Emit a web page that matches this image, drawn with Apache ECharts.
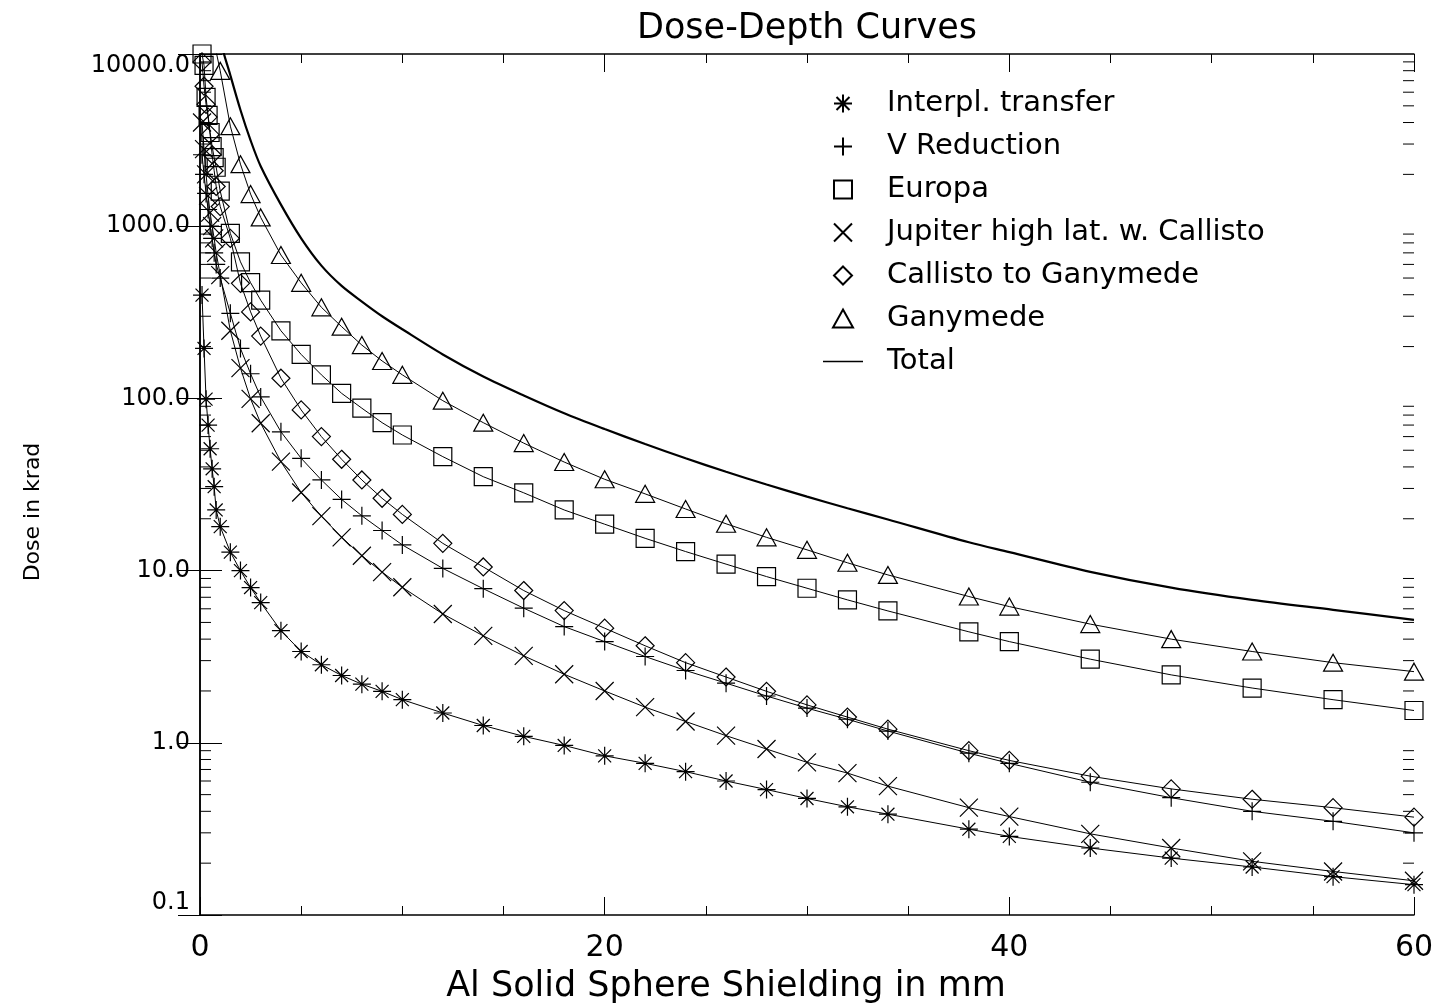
<!DOCTYPE html>
<html>
<head>
<meta charset="utf-8">
<title>Dose-Depth Curves</title>
<script src="https://cdn.jsdelivr.net/npm/echarts@6/dist/echarts.min.js"></script>
<style>
  html, body { margin: 0; padding: 0; background: #fff; }
  #chart { width: 1436px; height: 1004px; }
</style>
</head>
<body>
<div id="chart"></div>
<script>
// Al shielding depth in mm, one entry per marker
const depth = [0.1, 0.2, 0.3, 0.4, 0.5, 0.6, 0.7, 0.8, 1, 1.5, 2, 2.5, 3, 4, 5, 6, 7, 8, 9, 10,
  12, 14, 16, 18, 20, 22, 24, 26, 28, 30, 32, 34, 38, 40, 44, 48, 52, 56, 60]

// dose in krad
const interplTransfer = [398, 195, 99, 70, 51, 39, 30.7, 22.5, 18, 12.8, 10.0, 7.97, 6.52, 4.48, 3.39, 2.84, 2.46, 2.19, 1.99, 1.78,
  1.49, 1.26, 1.09, 0.965, 0.84, 0.76, 0.68, 0.60, 0.535, 0.475, 0.425, 0.385, 0.315, 0.286, 0.245, 0.214, 0.19, 0.167, 0.15]
const vReduction = [2600, 2000, 1550, 1250, 1000, 850, 700, 600, 500, 312, 195, 139, 102, 64, 44.9, 33.6, 25.9, 20.8, 17.1, 14.1,
  10.3, 7.85, 6.05, 4.73, 3.87, 3.17, 2.63, 2.22, 1.87, 1.59, 1.37, 1.17, 0.87, 0.76, 0.59, 0.48, 0.40, 0.35, 0.30]
const europa = [10000, 8600, 5600, 4400, 3500, 2900, 2500, 2200, 1600, 908, 621, 470, 372, 247, 180, 137, 107, 87.7, 72.3, 61.3,
  45.9, 35.1, 28.3, 22.5, 18.6, 15.4, 12.9, 10.9, 9.23, 7.9, 6.76, 5.83, 4.41, 3.87, 3.06, 2.48, 2.08, 1.78, 1.54]
const jupiterHighLat = [4000, 2800, 2000, 1500, 1200, 1000, 850, 700, 520, 247, 150, 99.3, 71.7, 42.9, 28.4, 20.7, 15.6, 12.2, 9.8, 8.0,
  5.6, 4.18, 3.2, 2.5, 2.0, 1.61, 1.33, 1.1, 0.92, 0.77, 0.667, 0.56, 0.42, 0.373, 0.296, 0.245, 0.205, 0.179, 0.158]
const callistoToGanymede = [9000, 6500, 5100, 4300, 3400, 2600, 2100, 1700, 1300, 849, 466, 318, 230, 131, 85.7, 60, 44.3, 33.6, 26.3, 21.2,
  14.4, 10.5, 7.66, 5.86, 4.63, 3.66, 2.92, 2.41, 1.99, 1.66, 1.41, 1.2, 0.90, 0.79, 0.64, 0.54, 0.47, 0.42, 0.37]
const ganymede = [60000, 40000, 30000, 24000, 19000, 16000, 13000, 10300, 7980, 3810, 2292, 1536, 1125, 680, 469, 338, 261, 204, 165, 137,
  97, 72.3, 55, 42.7, 33.9, 27.9, 22.8, 18.7, 15.6, 13.2, 11.1, 9.44, 7.07, 6.18, 4.89, 4.0, 3.39, 2.92, 2.59]
const total = [200000, 120000, 80000, 60000, 45000, 36000, 30000, 25000, 12300, 7530, 4730, 3150, 2230, 1334, 850, 590, 450, 365, 300, 252,
  180, 134, 104, 82, 66.4, 54.3, 44.9, 37.5, 31.6, 26.9, 23.0, 19.8, 14.6, 12.8, 9.84, 7.96, 6.76, 5.92, 5.18]

const xTickLabels = ['0', '20', '40', '60']
// minor ticks of the log axis: 2..9 times each decade
const decades = [0.1, 1, 10, 100, 1000]
const minorSteps = [2, 3, 4, 5, 6, 7, 8, 9]

const font = 'DejaVu Sans'
const plusPath = 'path://M5,0L5,10M0,5L10,5'
const crossPath = 'path://M0,0L10,10M10,0L0,10'
const starPath = 'path://M5,0L5,10M0,5L10,5M1.4,1.4L8.6,8.6M8.6,1.4L1.4,8.6'
const squarePath = 'path://M0,0L10,0L10,10L0,10Z'
const diamondPath = 'path://M5,0L10,5L5,10L0,5Z'
const trianglePath = 'path://M5,0L10,9L0,9Z'
const barPath = 'path://M0,0L36,0L36,1.5L0,1.5Z'

function markerSeries(name, values, symbol, size) {
  return {
    name: name,
    type: 'line',
    data: depth.map((d, i) => [d, values[i]]),
    symbol: symbol,
    symbolSize: size,
    showAllSymbol: true,
    clip: true,
    lineStyle: { color: '#000', width: 1 },
    itemStyle: { color: 'rgba(0,0,0,0)', borderColor: '#000', borderWidth: 1.2 },
    emphasis: { disabled: true }
  }
}

const chart = echarts.init(document.getElementById('chart'))

const yAxisBase = {
  type: 'log',
  logBase: 10,
  min: 0.1,
  max: 10000,
  axisLine: { show: true, lineStyle: { color: '#000', width: 1.5 } },
  axisTick: { show: true, inside: true, length: 22, lineStyle: { color: '#000', width: 1 } },
  minorTick: { show: false },
  splitLine: { show: false }
}
const xAxisBase = {
  type: 'value',
  min: 0,
  max: 60,
  interval: 20,
  axisLine: { show: true, onZero: false, lineStyle: { color: '#000', width: 1.5 } },
  axisTick: { show: true, inside: true, length: 18, lineStyle: { color: '#000', width: 1 } },
  minorTick: { show: true, splitNumber: 4, length: 9, lineStyle: { color: '#000', width: 1 } },
  splitLine: { show: false }
}

const minorTicks = []
decades.forEach(d => minorSteps.forEach(k => minorTicks.push([0, k * d])))

chart.setOption({
  animation: false,
  backgroundColor: '#fff',
  title: {
    text: 'Dose-Depth Curves',
    left: 802,
    top: 6,
    textAlign: 'center',
    textStyle: { fontFamily: font, fontSize: 35, fontWeight: 'normal', color: '#000' }
  },
  grid: { left: 200, right: 22, top: 54, bottom: 89, containLabel: false, outerBoundsMode: 'none' },
  xAxis: [
    Object.assign({}, xAxisBase, {
      position: 'bottom',
      axisLabel: {
        margin: 18,
        fontFamily: font,
        fontSize: 30,
        color: '#000',
        formatter: (v) => xTickLabels[Math.round(v / 20)]
      }
    }),
    Object.assign({}, xAxisBase, { position: 'top', axisLabel: { show: false } })
  ],
  yAxis: [
    Object.assign({}, yAxisBase, {
      position: 'left',
      axisLabel: {
        margin: 10,
        fontFamily: font,
        fontSize: 24,
        color: '#000',
        verticalAlignMinLabel: 'bottom',
        verticalAlignMaxLabel: 'top',
        formatter: (v) => v.toFixed(1)
      }
    }),
    Object.assign({}, yAxisBase, { position: 'right', axisLabel: { show: false } })
  ],
  legend: {
    orient: 'vertical',
    left: 818,
    top: 84,
    itemWidth: 40,
    itemHeight: 18,
    itemGap: 14,
    selectedMode: false,
    textStyle: { fontFamily: font, fontSize: 29, color: '#000', padding: [0, 0, 0, 19] },
    data: [
      { name: 'Interpl. transfer', icon: starPath },
      { name: 'V Reduction', icon: plusPath },
      { name: 'Europa', icon: squarePath },
      { name: 'Jupiter high lat. w. Callisto', icon: crossPath },
      { name: 'Callisto to Ganymede', icon: diamondPath },
      { name: 'Ganymede', icon: trianglePath },
      { name: 'Total', icon: barPath }
    ]
  },
  graphic: [
    {
      type: 'text',
      x: 726,
      y: 987,
      style: { text: 'Al Solid Sphere Shielding in mm', fontFamily: font, fontSize: 35, fill: '#000', align: 'center', verticalAlign: 'middle' }
    },
    {
      type: 'text',
      x: 33,
      y: 512,
      rotation: Math.PI / 2,
      style: { text: 'Dose in krad', fontFamily: font, fontSize: 22, fill: '#000', align: 'center', verticalAlign: 'middle' }
    }
  ],
  series: [
    markerSeries('Interpl. transfer', interplTransfer, starPath, 18),
    markerSeries('V Reduction', vReduction, plusPath, 18),
    markerSeries('Europa', europa, squarePath, 18),
    markerSeries('Jupiter high lat. w. Callisto', jupiterHighLat, crossPath, 18),
    markerSeries('Callisto to Ganymede', callistoToGanymede, diamondPath, 18),
    markerSeries('Ganymede', ganymede, trianglePath, [19, 17]),
    {
      name: 'Total',
      type: 'line',
      data: depth.map((d, i) => [d, total[i]]),
      symbol: 'none',
      smooth: 0.3,
      clip: true,
      lineStyle: { color: '#000', width: 2.2 },
      itemStyle: { color: '#000' },
      emphasis: { disabled: true }
    },
    {
      // short log-spaced minor ticks on the left and right frame
      type: 'custom',
      silent: true,
      data: minorTicks,
      renderItem: (params, api) => {
        const left = api.coord([0, api.value(1)])
        const right = api.coord([60, api.value(1)])
        return {
          type: 'group',
          children: [
            { type: 'line', shape: { x1: left[0], y1: left[1], x2: left[0] + 11, y2: left[1] }, style: { stroke: '#000', lineWidth: 1 } },
            { type: 'line', shape: { x1: right[0] - 11, y1: right[1], x2: right[0], y2: right[1] }, style: { stroke: '#000', lineWidth: 1 } }
          ]
        }
      }
    }
  ]
})
</script>
</body>
</html>
